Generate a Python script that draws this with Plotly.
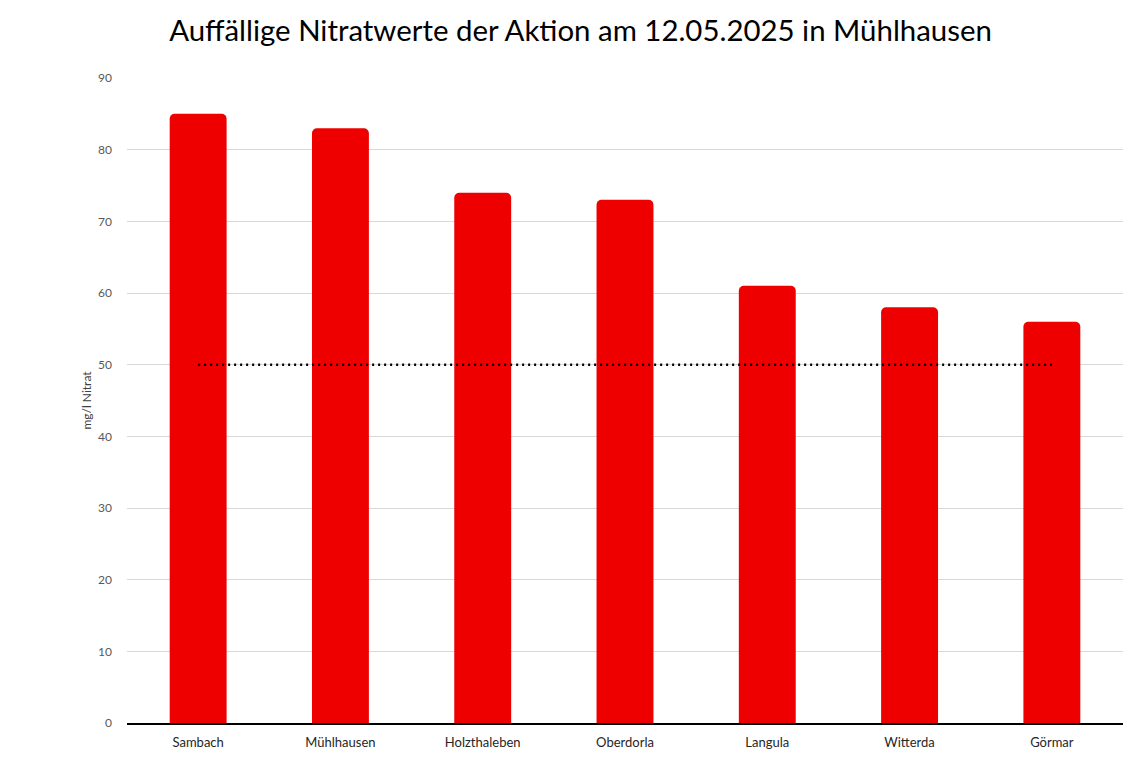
import plotly.graph_objects as go

categories = ["Sambach", "Mühlhausen", "Holzthaleben", "Oberdorla", "Langula", "Witterda", "Görmar"]
nitrat = [85, 83, 74, 73, 61, 58, 56]
grenzwert = [50] * len(categories)
y_ticks = [0, 10, 20, 30, 40, 50, 60, 70, 80, 90]

title_text = "Auffällige Nitratwerte der Aktion am 12.05.2025 in Mühlhausen"
y_title = "mg/l Nitrat"

fig = go.Figure()
fig.add_trace(go.Bar(
    x=categories, y=nitrat,
    marker=dict(color="#EE0000", line=dict(width=0)),
    showlegend=False, hoverinfo="x+y",
))
fig.add_trace(go.Scatter(
    x=categories, y=grenzwert, mode="lines",
    line=dict(color="black", width=2.5, dash="2px,4px"),
    showlegend=False,
))

fig.update_layout(
    width=1145, height=779,
    margin=dict(l=119, r=30, t=70, b=64),
    paper_bgcolor="white", plot_bgcolor="white",
    bargap=0.6, barcornerradius=5,
    font=dict(family="Lato, 'Open Sans', sans-serif", color="#404040"),
    title=dict(text=title_text, x=0.5, xanchor="center", y=0.9705, yanchor="middle",
               font=dict(size=29.4, color="black", family="Lato, 'Open Sans', sans-serif")),
    xaxis=dict(
        showgrid=False, showline=True, linecolor="black", linewidth=1.5,
        ticks="", tickfont=dict(size=13, color="#262626"), ticklabelstandoff=7,
    ),
    yaxis=dict(
        range=[0, 90], tickvals=y_ticks, showgrid=True, gridcolor="#D9D9D9", gridwidth=1,
        zeroline=False, showline=False, ticks="", ticklabelstandoff=14,
        tickfont=dict(size=12, color="#595959"),
        title=dict(text=y_title, font=dict(size=12, color="#404040"), standoff=3),
    ),
)

fig.write_html("out.html")
